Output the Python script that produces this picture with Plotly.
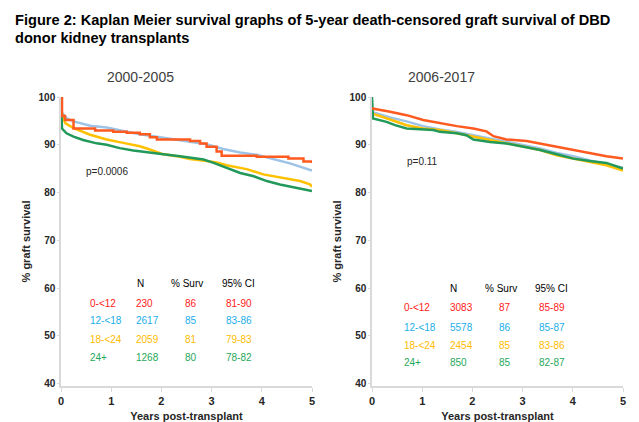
import plotly.graph_objects as go

# ---------------- data ----------------
groups = ["0-<12", "12-<18", "18-<24", "24+"]

# 2000-2005
l_red_x = [0, 0.02, 0.08, 0.25, 0.68, 1.04, 1.31, 1.57, 1.77, 1.91, 2.57, 2.77, 2.9, 3.1, 3.2, 3.9, 4.53, 4.83, 5.0]
l_red_y = [100, 96.0, 95.2, 93.4, 93.0, 92.7, 92.5, 92.2, 91.6, 91.1, 90.8, 90.25, 89.6, 88.6, 87.7, 87.5, 87.1, 86.5, 86.2]
l_blue_x = [0, 0.03, 0.11, 0.25, 0.58, 0.91, 1.24, 1.57, 1.91, 2.24, 2.57, 2.9, 3.23, 3.57, 3.9, 4.23, 4.56, 5.0]
l_blue_y = [97.3, 96.6, 95.6, 94.9, 94.0, 93.6, 92.9, 92.2, 91.7, 91.2, 90.6, 90.1, 89.1, 88.4, 87.9, 87.0, 86.1, 84.6]
l_yel_x = [0, 0.02, 0.09, 0.25, 0.58, 0.91, 1.24, 1.57, 1.77, 2.04, 2.37, 2.57, 2.9, 3.1, 3.3, 3.7, 4.03, 4.36, 4.76, 4.96, 5.0]
l_yel_y = [100, 96.2, 94.5, 93.5, 92.1, 91.1, 90.4, 89.7, 89.0, 88.0, 87.5, 87.0, 86.6, 86.3, 85.7, 84.9, 83.8, 83.1, 82.4, 81.7, 81.2]
l_grn_x = [0, 0.02, 0.11, 0.25, 0.44, 0.71, 0.91, 1.17, 1.44, 1.71, 2.04, 2.37, 2.64, 2.84, 3.04, 3.3, 3.57, 3.84, 4.1, 4.36, 4.7, 5.0]
l_grn_y = [100, 93.4, 92.4, 91.7, 91.0, 90.3, 90.0, 89.3, 88.8, 88.4, 88.0, 87.6, 87.2, 86.9, 86.2, 85.1, 84.1, 83.4, 82.4, 81.7, 81.0, 80.3]

# 2006-2017
r_red_x = [0, 0.01, 0.36, 0.69, 1.02, 1.35, 1.69, 2.02, 2.28, 2.42, 2.68, 3.08, 3.35, 3.68, 4.01, 4.34, 4.67, 5.0]
r_red_y = [97.8, 97.6, 96.9, 96.2, 95.2, 94.5, 93.9, 93.4, 92.8, 91.8, 91.1, 90.8, 90.25, 89.6, 89.0, 88.3, 87.6, 87.1]
r_blue_x = [0, 0.01, 0.36, 0.69, 1.02, 1.35, 1.69, 2.02, 2.35, 2.68, 3.02, 3.35, 3.68, 4.01, 4.34, 4.67, 5.0]
r_blue_y = [97.0, 96.8, 95.7, 94.9, 93.9, 93.2, 92.7, 92.0, 91.3, 90.6, 89.9, 89.2, 88.3, 87.6, 86.7, 86.0, 85.2]
r_yel_x = [0, 0.01, 0.36, 0.69, 1.02, 1.35, 1.69, 2.02, 2.35, 2.68, 3.02, 3.35, 3.68, 4.01, 4.34, 4.67, 5.0]
r_yel_y = [96.8, 96.5, 95.3, 94.1, 93.4, 93.1, 92.4, 91.7, 91.0, 90.25, 89.6, 88.9, 87.8, 87.1, 86.4, 85.7, 84.6]
r_grn_x = [0, 0.02, 0.29, 0.46, 0.69, 1.22, 1.35, 1.69, 1.88, 2.02, 2.35, 2.68, 3.02, 3.35, 3.68, 4.01, 4.34, 4.67, 5.0]
r_grn_y = [100, 95.5, 94.8, 94.1, 93.4, 93.1, 92.7, 92.4, 92.0, 91.1, 90.6, 90.25, 89.6, 88.9, 88.0, 87.1, 86.6, 86.2, 85.0]

# tables
l_n = ["230", "2617", "2059", "1268"]
l_surv = ["86", "85", "81", "80"]
l_ci = ["81-90", "83-86", "79-83", "78-82"]
r_n = ["3083", "5578", "2454", "850"]
r_surv = ["87", "86", "85", "85"]
r_ci = ["85-89", "85-87", "83-86", "82-87"]
headers = ["N", "% Surv", "95% CI"]

p_left = "p=0.0006"
p_right = "p=0.11"
y_ticks = [40, 50, 60, 70, 80, 90, 100]
x_ticks = [0, 1, 2, 3, 4, 5]

# ---------------- styles ----------------
line_cols = ["#ff5a1f", "#9dc3e6", "#ffc000", "#22995a"]
text_cols = ["#ff2020", "#1aaee8", "#ffbb00", "#1fa85a"]
FONT = "Liberation Sans, Arial, sans-serif"

fig = go.Figure()

left_series = [(l_red_x, l_red_y, "hv"), (l_blue_x, l_blue_y, "linear"),
               (l_yel_x, l_yel_y, "linear"), (l_grn_x, l_grn_y, "linear")]
right_series = [(r_red_x, r_red_y, "linear"), (r_blue_x, r_blue_y, "linear"),
                (r_yel_x, r_yel_y, "linear"), (r_grn_x, r_grn_y, "linear")]

for i in [1, 2, 3, 0]:
    xs, ys, sh = left_series[i]
    fig.add_trace(go.Scatter(x=xs, y=ys, mode="lines", line=dict(color=line_cols[i], width=2.5, shape=sh),
                             xaxis="x", yaxis="y", showlegend=False, cliponaxis=False, hoverinfo="skip"))
for i in [1, 2, 3, 0]:
    xs, ys, sh = right_series[i]
    fig.add_trace(go.Scatter(x=xs, y=ys, mode="lines", line=dict(color=line_cols[i], width=2.5, shape=sh),
                             xaxis="x2", yaxis="y2", showlegend=False, cliponaxis=False, hoverinfo="skip"))

W, H = 639, 422
def px(v):
    return v / W
def py(v):
    return 1 - v / H

axis_common = dict(showgrid=False, zeroline=False, showline=True, linecolor="#d9d9d9", linewidth=1.5,
                   automargin=False, ticks="outside", tickcolor="#d9d9d9")
xax = dict(axis_common, range=[0, 5], tickvals=x_ticks, ticklen=4,
           tickfont=dict(family=FONT, size=11, color="#262626", weight="bold"),
           title=dict(text="<b>Years post-transplant</b>", font=dict(family=FONT, size=11, color="#262626"), standoff=6))
yax = dict(axis_common, range=[39.5, 100], tickvals=y_ticks, ticklen=2,
           tickfont=dict(family=FONT, size=10, color="#262626", weight="bold"),
           title=dict(text="<b>% graft survival</b>", font=dict(family=FONT, size=11, color="#262626"), standoff=6))

fig.update_layout(
    width=W, height=H, margin=dict(l=0, r=0, t=0, b=0, autoexpand=False),
    paper_bgcolor="white", plot_bgcolor="white",
    xaxis=dict(xax, domain=[px(61), px(312)], anchor="y"),
    yaxis=dict(yax, domain=[py(386), py(97)], anchor="x"),
    xaxis2=dict(xax, domain=[px(372), px(623)], anchor="y2"),
    yaxis2=dict(yax, domain=[py(386), py(97)], anchor="x2"),
)

ann = []
ann.append(dict(text="<b>Figure 2: Kaplan Meier survival graphs of 5-year death-censored graft survival of DBD</b>",
                x=px(13), y=py(20), xref="paper", yref="paper", xanchor="left", yanchor="middle",
                showarrow=False, font=dict(family=FONT, size=14.6, color="#000000")))
ann.append(dict(text="<b>donor kidney transplants</b>",
                x=px(13), y=py(38), xref="paper", yref="paper", xanchor="left", yanchor="middle",
                showarrow=False, font=dict(family=FONT, size=14.6, color="#000000")))
ann.append(dict(text="2000-2005", x=px(140), y=py(77), xref="paper", yref="paper", showarrow=False,
                xanchor="center", yanchor="middle", font=dict(family=FONT, size=14, color="#404040")))
ann.append(dict(text="2006-2017", x=px(441), y=py(77), xref="paper", yref="paper", showarrow=False,
                xanchor="center", yanchor="middle", font=dict(family=FONT, size=14, color="#404040")))

ann.append(dict(text=p_left, x=0.46, y=84.5, xref="x", yref="y", xanchor="left", showarrow=False,
                font=dict(family=FONT, size=10, color="#262626")))
ann.append(dict(text=p_right, x=0.66, y=86.4, xref="x2", yref="y2", xanchor="left", showarrow=False,
                font=dict(family=FONT, size=10, color="#262626")))

def table(xr, yr, hy, hxs, rys, lx, nx, sx, cx, ns, survs, cis):
    for t, hx in zip(headers, hxs):
        ann.append(dict(text=t, x=hx, y=hy, xref=xr, yref=yr, xanchor="left", showarrow=False,
                        font=dict(family=FONT, size=10, color="#000000")))
    for k in range(4):
        c = text_cols[k]
        f = dict(family=FONT, size=10, color=c)
        ann.append(dict(text=groups[k], x=lx, y=rys[k], xref=xr, yref=yr, xanchor="left", showarrow=False, font=f))
        ann.append(dict(text=ns[k], x=nx, y=rys[k], xref=xr, yref=yr, xanchor="left", showarrow=False, font=f))
        ann.append(dict(text=survs[k], x=sx, y=rys[k], xref=xr, yref=yr, xanchor="left", showarrow=False, font=f))
        ann.append(dict(text=cis[k], x=cx, y=rys[k], xref=xr, yref=yr, xanchor="right", showarrow=False, font=f))

table("x", "y", 61.06, [1.47, 2.15, 3.17], [56.87, 53.11, 49.34, 45.57], 0.54, 1.45, 2.43, 3.85,
      l_n, l_surv, l_ci)
table("x2", "y2", 59.81, [1.51, 2.21, 3.21], [55.83, 51.85, 48.08, 44.32], 0.6, 1.51, 2.49, 3.88,
      r_n, r_surv, r_ci)

fig.update_layout(annotations=ann)
fig.write_html("out.html", config={"displayModeBar": False},
               post_script="document.body.style.margin='0';document.body.style.overflow='hidden';")
